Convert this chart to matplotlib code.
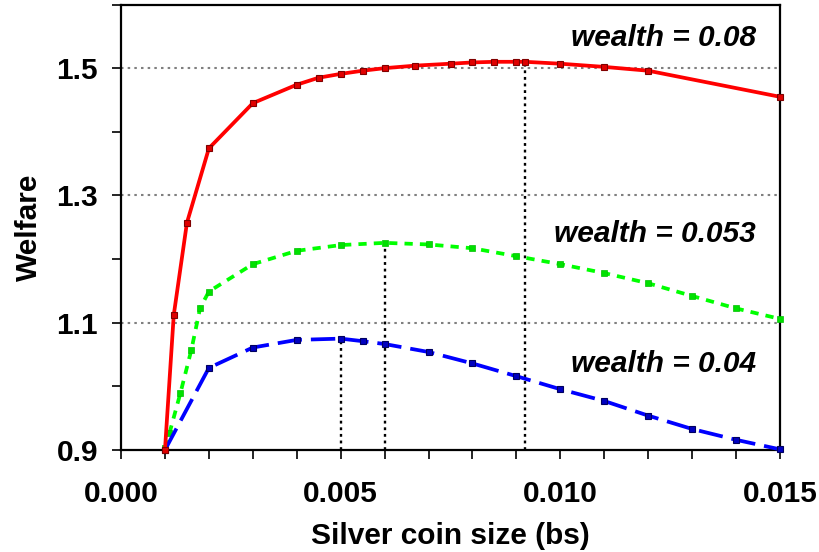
import matplotlib
matplotlib.use("Agg")
import matplotlib.pyplot as plt
from matplotlib.ticker import MultipleLocator, FixedLocator

plt.rcParams['font.family'] = ['Liberation Sans', 'DejaVu Sans']
plt.rcParams['font.weight'] = 'bold'

# Dados
red_x = [0.001, 0.0012, 0.0015, 0.002, 0.003, 0.004, 0.0045, 0.005, 0.0055, 0.006,
         0.0067, 0.0075, 0.008, 0.0085, 0.009, 0.0092, 0.010, 0.011, 0.012, 0.015]
red_y = [0.900, 1.112, 1.257, 1.374, 1.445, 1.474, 1.485, 1.491, 1.496, 1.500,
         1.504, 1.507, 1.509, 1.510, 1.510, 1.510, 1.507, 1.502, 1.496, 1.455]

green_x = [0.001, 0.0011, 0.00135, 0.0016, 0.0018, 0.002, 0.003, 0.004, 0.005, 0.006,
           0.007, 0.008, 0.009, 0.010, 0.011, 0.012, 0.013, 0.014, 0.015]
green_y = [0.903, 0.926, 0.989, 1.057, 1.123, 1.149, 1.192, 1.213, 1.222, 1.2255,
           1.223, 1.217, 1.2045, 1.192, 1.178, 1.162, 1.142, 1.1225, 1.106]

blue_x = [0.001, 0.002, 0.003, 0.004, 0.005, 0.0055, 0.006, 0.007, 0.008, 0.009,
          0.010, 0.011, 0.012, 0.013, 0.014, 0.015]
blue_y = [0.900, 1.029, 1.061, 1.073, 1.075, 1.071, 1.0665, 1.054, 1.036, 1.016,
          0.9955, 0.977, 0.954, 0.933, 0.916, 0.901]

# Linhas verticais nos máximos
peak_x = [0.005, 0.006, 0.0092]
peak_y = [1.075, 1.2255, 1.510]

labels = ["wealth = 0.08", "wealth = 0.053", "wealth = 0.04"]
x_ticks = [0.000, 0.005, 0.010, 0.015]
y_ticks = [0.9, 1.1, 1.3, 1.5]

fig = plt.figure(figsize=(8.2, 5.52), dpi=100)
ax = fig.add_axes([0.1476, 0.1848, 0.8036, 0.807])

fs = 21.5
lw = 2.7

# Grade horizontal
for yv in y_ticks[1:]:
    ax.axhline(yv, color="#808080", linestyle=(0, (1.2, 2.0)), linewidth=1.5, zorder=1)

# Linhas verticais pontilhadas
for xv, yv in zip(peak_x, peak_y):
    ax.plot([xv, xv], [0.9, yv], color="black", linestyle=(0, (1.2, 1.6)),
            linewidth=1.7, zorder=2)

ax.plot(red_x, red_y, color="#FF0000", linewidth=lw, marker="s", markersize=3.8,
        markerfacecolor="#E00000", markeredgecolor="#800000", markeredgewidth=0.8,
        clip_on=False, zorder=5)
ax.plot(green_x, green_y, color="#00FF00", linewidth=lw, linestyle=(0, (2.2, 1.9)),
        marker="s", markersize=3.8, markerfacecolor="#00E000", markeredgecolor="#00C000",
        markeredgewidth=0.5, clip_on=False, zorder=4)
ax.plot(blue_x, blue_y, color="#0000FF", linewidth=lw, linestyle=(0, (6.5, 2.4)),
        marker="s", markersize=3.8, markerfacecolor="#0000C0", markeredgecolor="#000060",
        markeredgewidth=0.8, clip_on=False, zorder=4)

# Rótulos das curvas
ax.text(0.9636, 0.907, labels[0], transform=ax.transAxes, ha="right", va="baseline",
        fontsize=fs, fontweight="bold", fontstyle="italic")
ax.text(0.9636, 0.4676, labels[1], transform=ax.transAxes, ha="right", va="baseline",
        fontsize=fs, fontweight="bold", fontstyle="italic")
ax.text(0.9636, 0.1758, labels[2], transform=ax.transAxes, ha="right", va="baseline",
        fontsize=fs, fontweight="bold", fontstyle="italic")

ax.set_xlim(0, 0.015)
ax.set_ylim(0.9, 1.6)

ax.xaxis.set_major_locator(FixedLocator(x_ticks))
ax.xaxis.set_minor_locator(MultipleLocator(0.001))
ax.set_xticklabels(["%.3f" % v for v in x_ticks])
ax.yaxis.set_major_locator(FixedLocator(y_ticks))
ax.yaxis.set_minor_locator(MultipleLocator(0.1))
ax.set_yticklabels(["%.1f" % v for v in y_ticks])

ax.tick_params(axis="both", which="both", direction="out", length=6.5, width=1.2,
               color="black")
ax.tick_params(axis="x", which="major", pad=15, labelsize=fs)
ax.tick_params(axis="y", which="major", pad=10, labelsize=fs)

for s in ax.spines.values():
    s.set_linewidth(1.6)
    s.set_color("black")

ax.set_xlabel("Silver coin size (bs)", fontsize=fs, fontweight="bold", labelpad=10)
ax.set_ylabel("Welfare", fontsize=fs, fontweight="bold", labelpad=10)

fig.savefig("out.png", dpi=100)
